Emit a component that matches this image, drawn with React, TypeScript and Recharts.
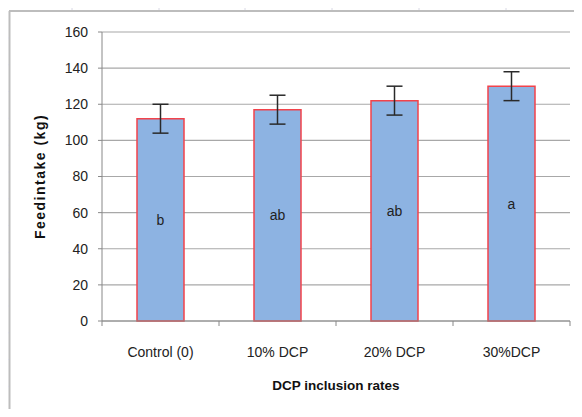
import React from "react";
import {
  BarChart,
  Bar,
  XAxis,
  YAxis,
  CartesianGrid,
  ErrorBar,
  LabelList,
  Label,
} from "recharts";

const categories = ["Control (0)", "10% DCP", "20% DCP", "30%DCP"];
const feedIntake = [112, 117, 122, 130];
const errors = [8, 8, 8, 8];
const letters = ["b", "ab", "ab", "a"];
const yTicks = [0, 20, 40, 60, 80, 100, 120, 140, 160];

const data = categories.map((name, i) => ({
  name,
  value: feedIntake[i],
  err: errors[i],
  letter: letters[i],
}));

const W = 582;
const H = 417;
const Y_AXIS_W = 102;
const RIGHT = 12;
const HALF_BAND = (W - Y_AXIS_W - RIGHT) / categories.length / 2;
const FONT = "'Liberation Sans', Arial, sans-serif";

function CatTick(props: any) {
  const { x, y, payload, index } = props;
  const last = index === categories.length - 1;
  return (
    <g>
      <line x1={x - HALF_BAND} y1={y} x2={x - HALF_BAND} y2={y + 5} stroke="#888" />
      {last && <line x1={x + HALF_BAND} y1={y} x2={x + HALF_BAND} y2={y + 5} stroke="#888" />}
      <text x={x} y={y + 36} textAnchor="middle" fontSize={14} fill="#222" fontFamily={FONT}>
        {payload.value}
      </text>
    </g>
  );
}

function YTitle(props: any) {
  const { viewBox } = props;
  const cx = 40;
  const cy = viewBox.y + viewBox.height / 2;
  return (
    <text
      x={cx}
      y={cy}
      transform={`rotate(-90 ${cx} ${cy})`}
      textAnchor="middle"
      dominantBaseline="central"
      fontSize={14}
      fontWeight="bold"
      letterSpacing={1.5}
      fill="#111"
      fontFamily={FONT}
    >
      Feedintake (kg)
    </text>
  );
}

export default function App() {
  const topTicks = [72, 159, 245, 332, 419, 506];
  const leftTicks: number[] = [];
  for (let t = 38; t < H; t += 26.8) leftTicks.push(t);

  return (
    <div style={{ position: "relative", width: W, height: H, margin: -8, background: "#fff" }}>
      <svg width={W} height={H} style={{ position: "absolute", left: 0, top: 0 }}>
        <line x1={9.5} y1={11} x2={9.5} y2={H} stroke="#bdbdbd" strokeWidth={2} />
        <line x1={9} y1={11} x2={W} y2={11} stroke="#bdbdbd" strokeWidth={2} />
        {topTicks.map((t) => (
          <line key={t} x1={t} y1={7} x2={t} y2={10} stroke="#d8d8e4" />
        ))}
        {leftTicks.map((t) => (
          <line key={t} x1={6} y1={t} x2={9} y2={t} stroke="#d8d8e4" />
        ))}
      </svg>
      <div style={{ position: "absolute", left: 0, top: 0 }}>
        <BarChart
          width={W}
          height={H}
          data={data}
          margin={{ top: 32, right: RIGHT, left: 0, bottom: 0 }}
        >
          <CartesianGrid vertical={false} stroke="#a8a8a8" strokeWidth={1.2} />
          <XAxis
            dataKey="name"
            height={96}
            axisLine={{ stroke: "#888" }}
            tickLine={false}
            tickSize={0}
            tickMargin={0}
            tick={<CatTick />}
            interval={0}
          >
            <Label
              value="DCP inclusion rates"
              position="insideBottom"
              offset={27}
              fontSize={13.5}
              fontWeight="bold"
              fill="#111"
              fontFamily={FONT}
            />
          </XAxis>
          <YAxis
            width={Y_AXIS_W}
            domain={[0, 160]}
            ticks={yTicks}
            axisLine={{ stroke: "#888" }}
            tickLine={{ stroke: "#888" }}
            tickSize={4}
            tickMargin={10}
            tick={{ fontSize: 14, fill: "#222", fontFamily: FONT }}
          >
            <Label content={<YTitle />} />
          </YAxis>
          <Bar
            dataKey="value"
            barSize={47}
            fill="#8DB3E2"
            stroke="#F2434B"
            strokeWidth={1.5}
            isAnimationActive={false}
          >
            <ErrorBar dataKey="err" width={8} stroke="#2a2a2a" strokeWidth={1.5} />
            <LabelList dataKey="letter" position="center" fontSize={14} fill="#222" fontFamily={FONT} />
          </Bar>
        </BarChart>
      </div>
    </div>
  );
}
